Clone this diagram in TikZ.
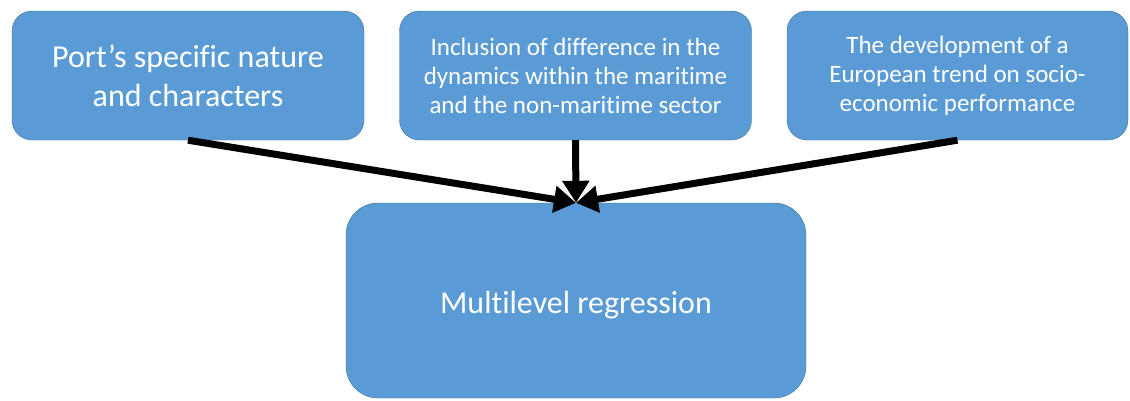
\documentclass[tikz,border=0pt]{standalone}
\usepackage{fontspec}
\setmainfont[RawFeature=-liga]{Carlito}
\usetikzlibrary{arrows.meta}
\definecolor{boxblue}{HTML}{5B9BD5}
\definecolor{boxedge}{HTML}{41719C}
\begin{document}
\begin{tikzpicture}[x=1pt,y=-1pt,
  factor/.style={draw=boxedge,fill=boxblue,text=white,rounded corners=20pt,
    minimum width=352pt,minimum height=129pt,align=center,inner sep=0pt},
  feed/.style={line width=7pt,-{Triangle[width=26pt,length=22pt]}}]
\useasboundingbox (0,0) rectangle (1130,400);
\node[factor,font=\fontsize{32}{39}\selectfont] (port) at (188,75.5) {Port’s specific nature\\and characters};
\node[factor,font=\fontsize{25}{29}\selectfont] (incl) at (575.5,75.5) {Inclusion of difference in the\\dynamics within the maritime\\and the non-maritime sector};
\node[factor,minimum width=341pt,font=\fontsize{25}{29}\selectfont] (trend) at (957.5,75.5) {The development of a\\European trend on socio-\\economic performance};
\node[factor,rounded corners=32pt,minimum width=460pt,minimum height=195pt,
  text height=25pt,text depth=0pt,font=\fontsize{32}{39}\selectfont] (mlr) at (576,300.5) {Multilevel regression};
\draw[feed] (port.south) -- (mlr.north);
\draw[feed] (incl.south) -- (mlr.north);
\draw[feed] (trend.south) -- (mlr.north);
\end{tikzpicture}
\end{document}
